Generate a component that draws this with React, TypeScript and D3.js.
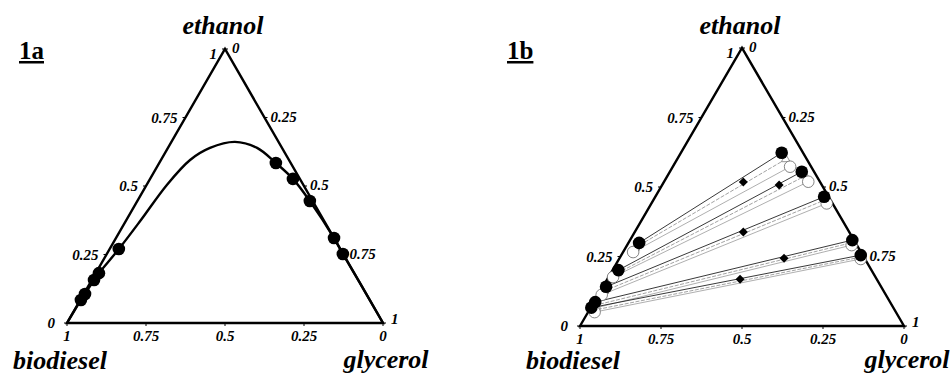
import React from "react";
import * as d3 from "d3";

// ---------- data ----------
const tickValues = [0, 0.25, 0.5, 0.75, 1];
const tickLabels = ["0", "0.25", "0.5", "0.75", "1"];
const componentNames = ["ethanol", "biodiesel", "glycerol"];
const panelNames = ["1a", "1b"];

// 1a: binodal curve, [ethanol, glycerol] mass fractions
const binodalCurve: [number, number][] = [
  [0.0, 0.0], [0.084, 0.002], [0.106, 0.004], [0.157, 0.007], [0.182, 0.01],
  [0.27, 0.029], [0.376, 0.046], [0.504, 0.064], [0.595, 0.092], [0.639, 0.133],
  [0.661, 0.201], [0.639, 0.282], [0.584, 0.369], [0.526, 0.452], [0.445, 0.546],
  [0.31, 0.69], [0.252, 0.747], [0.15, 0.85], [0.0, 1.0],
];
// 1a: experimental binodal points
const binodalPoints: [number, number][] = [
  [0.084, 0.002], [0.106, 0.004], [0.157, 0.007], [0.182, 0.01], [0.27, 0.029],
  [0.584, 0.369], [0.526, 0.452], [0.445, 0.546], [0.31, 0.69], [0.252, 0.747],
];

// 1b: tie lines, [ethanol, glycerol]
const expBiodieselPhase: [number, number][] = [
  [0.299, 0.033], [0.201, 0.018], [0.141, 0.01], [0.086, 0.004], [0.066, 0.002],
];
const expGlycerolPhase: [number, number][] = [
  [0.623, 0.311], [0.555, 0.407], [0.465, 0.521], [0.309, 0.686], [0.255, 0.739],
];
const feedPoints: [number, number][] = [
  [0.518, 0.245], [0.507, 0.361], [0.338, 0.335], [0.2435, 0.508], [0.168, 0.41],
];
const calcABiodieselPhase: [number, number][] = [
  [0.266, 0.031], [0.176, 0.014], [0.112, 0.011], [0.064, 0.012], [0.05, 0.02],
];
const calcAGlycerolPhase: [number, number][] = [
  [0.573, 0.362], [0.519, 0.445], [0.441, 0.541], [0.291, 0.693], [0.241, 0.746],
];
const calcBBiodieselPhase: [number, number][] = [
  [0.282, 0.03], [0.19, 0.02], [0.126, 0.012], [0.074, 0.008], [0.056, 0.01],
];
const calcBGlycerolPhase: [number, number][] = [
  [0.6, 0.335], [0.54, 0.425], [0.455, 0.532], [0.3, 0.69], [0.248, 0.743],
];

// ---------- layout ----------
type Frame = { left: number; right: number; base: number; apex: number };
const frameA: Frame = { left: 67, right: 383, base: 323, apex: 49 };
const frameB: Frame = { left: 580, right: 904, base: 326, apex: 48 };

const FONT = "Liberation Serif";

function makeProj(f: Frame) {
  const xs = d3.scaleLinear().domain([0, 1]).range([f.left, f.right]);
  const ys = d3.scaleLinear().domain([0, 1]).range([f.base, f.apex]);
  return (e: number, g: number): [number, number] => [xs(g + e / 2), ys(e)];
}

function Axes({ f, idx }: { f: Frame; idx: number }) {
  const p = makeProj(f);
  const T = p(1, 0), BL = p(0, 0), BR = p(0, 1);
  const tick = 3;
  return (
    <g>
      <path d={`M${BL[0]},${BL[1]}L${T[0]},${T[1]}L${BR[0]},${BR[1]}Z`} fill="none" stroke="#000" strokeWidth={2.4} strokeLinejoin="miter" />
      {tickValues.map((v, i) => {
        const b = p(0, 1 - v); // biodiesel fraction v on the bottom edge
        const l = p(v, 0); // ethanol on the left edge
        const r = p(1 - v, v); // glycerol on the right edge
        return (
          <g key={i}>
            <line x1={b[0]} y1={b[1]} x2={b[0]} y2={b[1] + tick} stroke="#000" strokeWidth={1} />
            <line x1={l[0]} y1={l[1]} x2={l[0] - tick} y2={l[1]} stroke="#000" strokeWidth={1} />
            <line x1={r[0]} y1={r[1]} x2={r[0] + tick} y2={r[1]} stroke="#000" strokeWidth={1} />
            <text fontFamily={FONT} fontWeight={700} fontStyle="italic" fontSize={15} x={b[0]} y={b[1] + 18} textAnchor="middle">{tickLabels[i]}</text>
            <text fontFamily={FONT} fontWeight={700} fontStyle="italic" fontSize={15} x={l[0] - (v === 0 ? 12 : 8)} y={l[1] + (v === 1 ? 10 : 5)} textAnchor="end">{tickLabels[i]}</text>
            <text fontFamily={FONT} fontWeight={700} fontStyle="italic" fontSize={15} x={r[0] + (v === 0 ? 7 : v === 1 ? 8 : 6)} y={r[1] + (v === 0 ? 4 : v === 1 ? 1 : 4)} textAnchor="start">{tickLabels[i]}</text>
          </g>
        );
      })}
      <text x={T[0] - 2} y={34} textAnchor="middle" fontFamily={FONT} fontWeight={700} fontStyle="italic" fontSize={26}>{componentNames[0]}</text>
      <text x={BL[0] - 7} y={369} textAnchor="middle" fontFamily={FONT} fontWeight={700} fontStyle="italic" fontSize={26}>{componentNames[1]}</text>
      <text x={BR[0] + 3} y={368} textAnchor="middle" fontFamily={FONT} fontWeight={700} fontStyle="italic" fontSize={26}>{componentNames[2]}</text>
      <text x={idx === 0 ? 19 : 507} y={59} fontFamily={FONT} fontWeight={700} fontSize={25} textDecoration="underline">{panelNames[idx]}</text>
    </g>
  );
}

function PanelA() {
  const p = makeProj(frameA);
  const line = d3.line<[number, number]>().x((d) => p(d[0], d[1])[0]).y((d) => p(d[0], d[1])[1]).curve(d3.curveCatmullRom.alpha(0.5));
  return (
    <g>
      <Axes f={frameA} idx={0} />
      <path d={line(binodalCurve) || ""} fill="none" stroke="#000" strokeWidth={2.4} />
      {binodalPoints.map((d, i) => {
        const [x, y] = p(d[0], d[1]);
        return <circle key={i} cx={x} cy={y} r={6.3} fill="#000" />;
      })}
    </g>
  );
}

function PanelB() {
  const p = makeProj(frameB);
  const seg = (a: [number, number], b: [number, number]) => {
    const [x1, y1] = p(a[0], a[1]);
    const [x2, y2] = p(b[0], b[1]);
    return { x1, y1, x2, y2 };
  };
  const tri = (x: number, y: number, s: number) => `M${x},${y - s}L${x + s * 0.87},${y + s * 0.5}L${x - s * 0.87},${y + s * 0.5}Z`;
  return (
    <g>
      <Axes f={frameB} idx={1} />
      {calcBBiodieselPhase.map((d, i) => (
        <line key={"cb" + i} {...seg(d, calcBGlycerolPhase[i])} stroke="#8a8a8a" strokeWidth={0.8} strokeDasharray="4,1.5" />
      ))}
      {calcABiodieselPhase.map((d, i) => (
        <line key={"ca" + i} {...seg(d, calcAGlycerolPhase[i])} stroke="#9a9a9a" strokeWidth={0.8} />
      ))}
      {expBiodieselPhase.map((d, i) => (
        <line key={"ex" + i} {...seg(d, expGlycerolPhase[i])} stroke="#222" strokeWidth={0.9} />
      ))}
      {[...calcBBiodieselPhase, ...calcBGlycerolPhase].map((d, i) => {
        const [x, y] = p(d[0], d[1]);
        return <path key={"tb" + i} d={tri(x, y, 5)} fill="#fff" stroke="#777" strokeWidth={0.8} />;
      })}
      {[...calcABiodieselPhase, ...calcAGlycerolPhase].map((d, i) => {
        const [x, y] = p(d[0], d[1]);
        return <circle key={"oa" + i} cx={x} cy={y} r={5.8} fill="#fff" stroke="#666" strokeWidth={0.8} />;
      })}
      {[...expBiodieselPhase, ...expGlycerolPhase].map((d, i) => {
        const [x, y] = p(d[0], d[1]);
        return <circle key={"fx" + i} cx={x} cy={y} r={6.3} fill="#000" />;
      })}
      {feedPoints.map((d, i) => {
        const [x, y] = p(d[0], d[1]);
        const s = 4.5;
        return <path key={"fd" + i} d={`M${x},${y - s}L${x + s},${y}L${x},${y + s}L${x - s},${y}Z`} fill="#000" />;
      })}
    </g>
  );
}

export default function App() {
  return (
    <svg width={951} height={374} style={{ position: "absolute", left: 0, top: 0, background: "#fff" }}>
      <rect width={951} height={374} fill="#fff" />
      <PanelA />
      <PanelB />
    </svg>
  );
}
